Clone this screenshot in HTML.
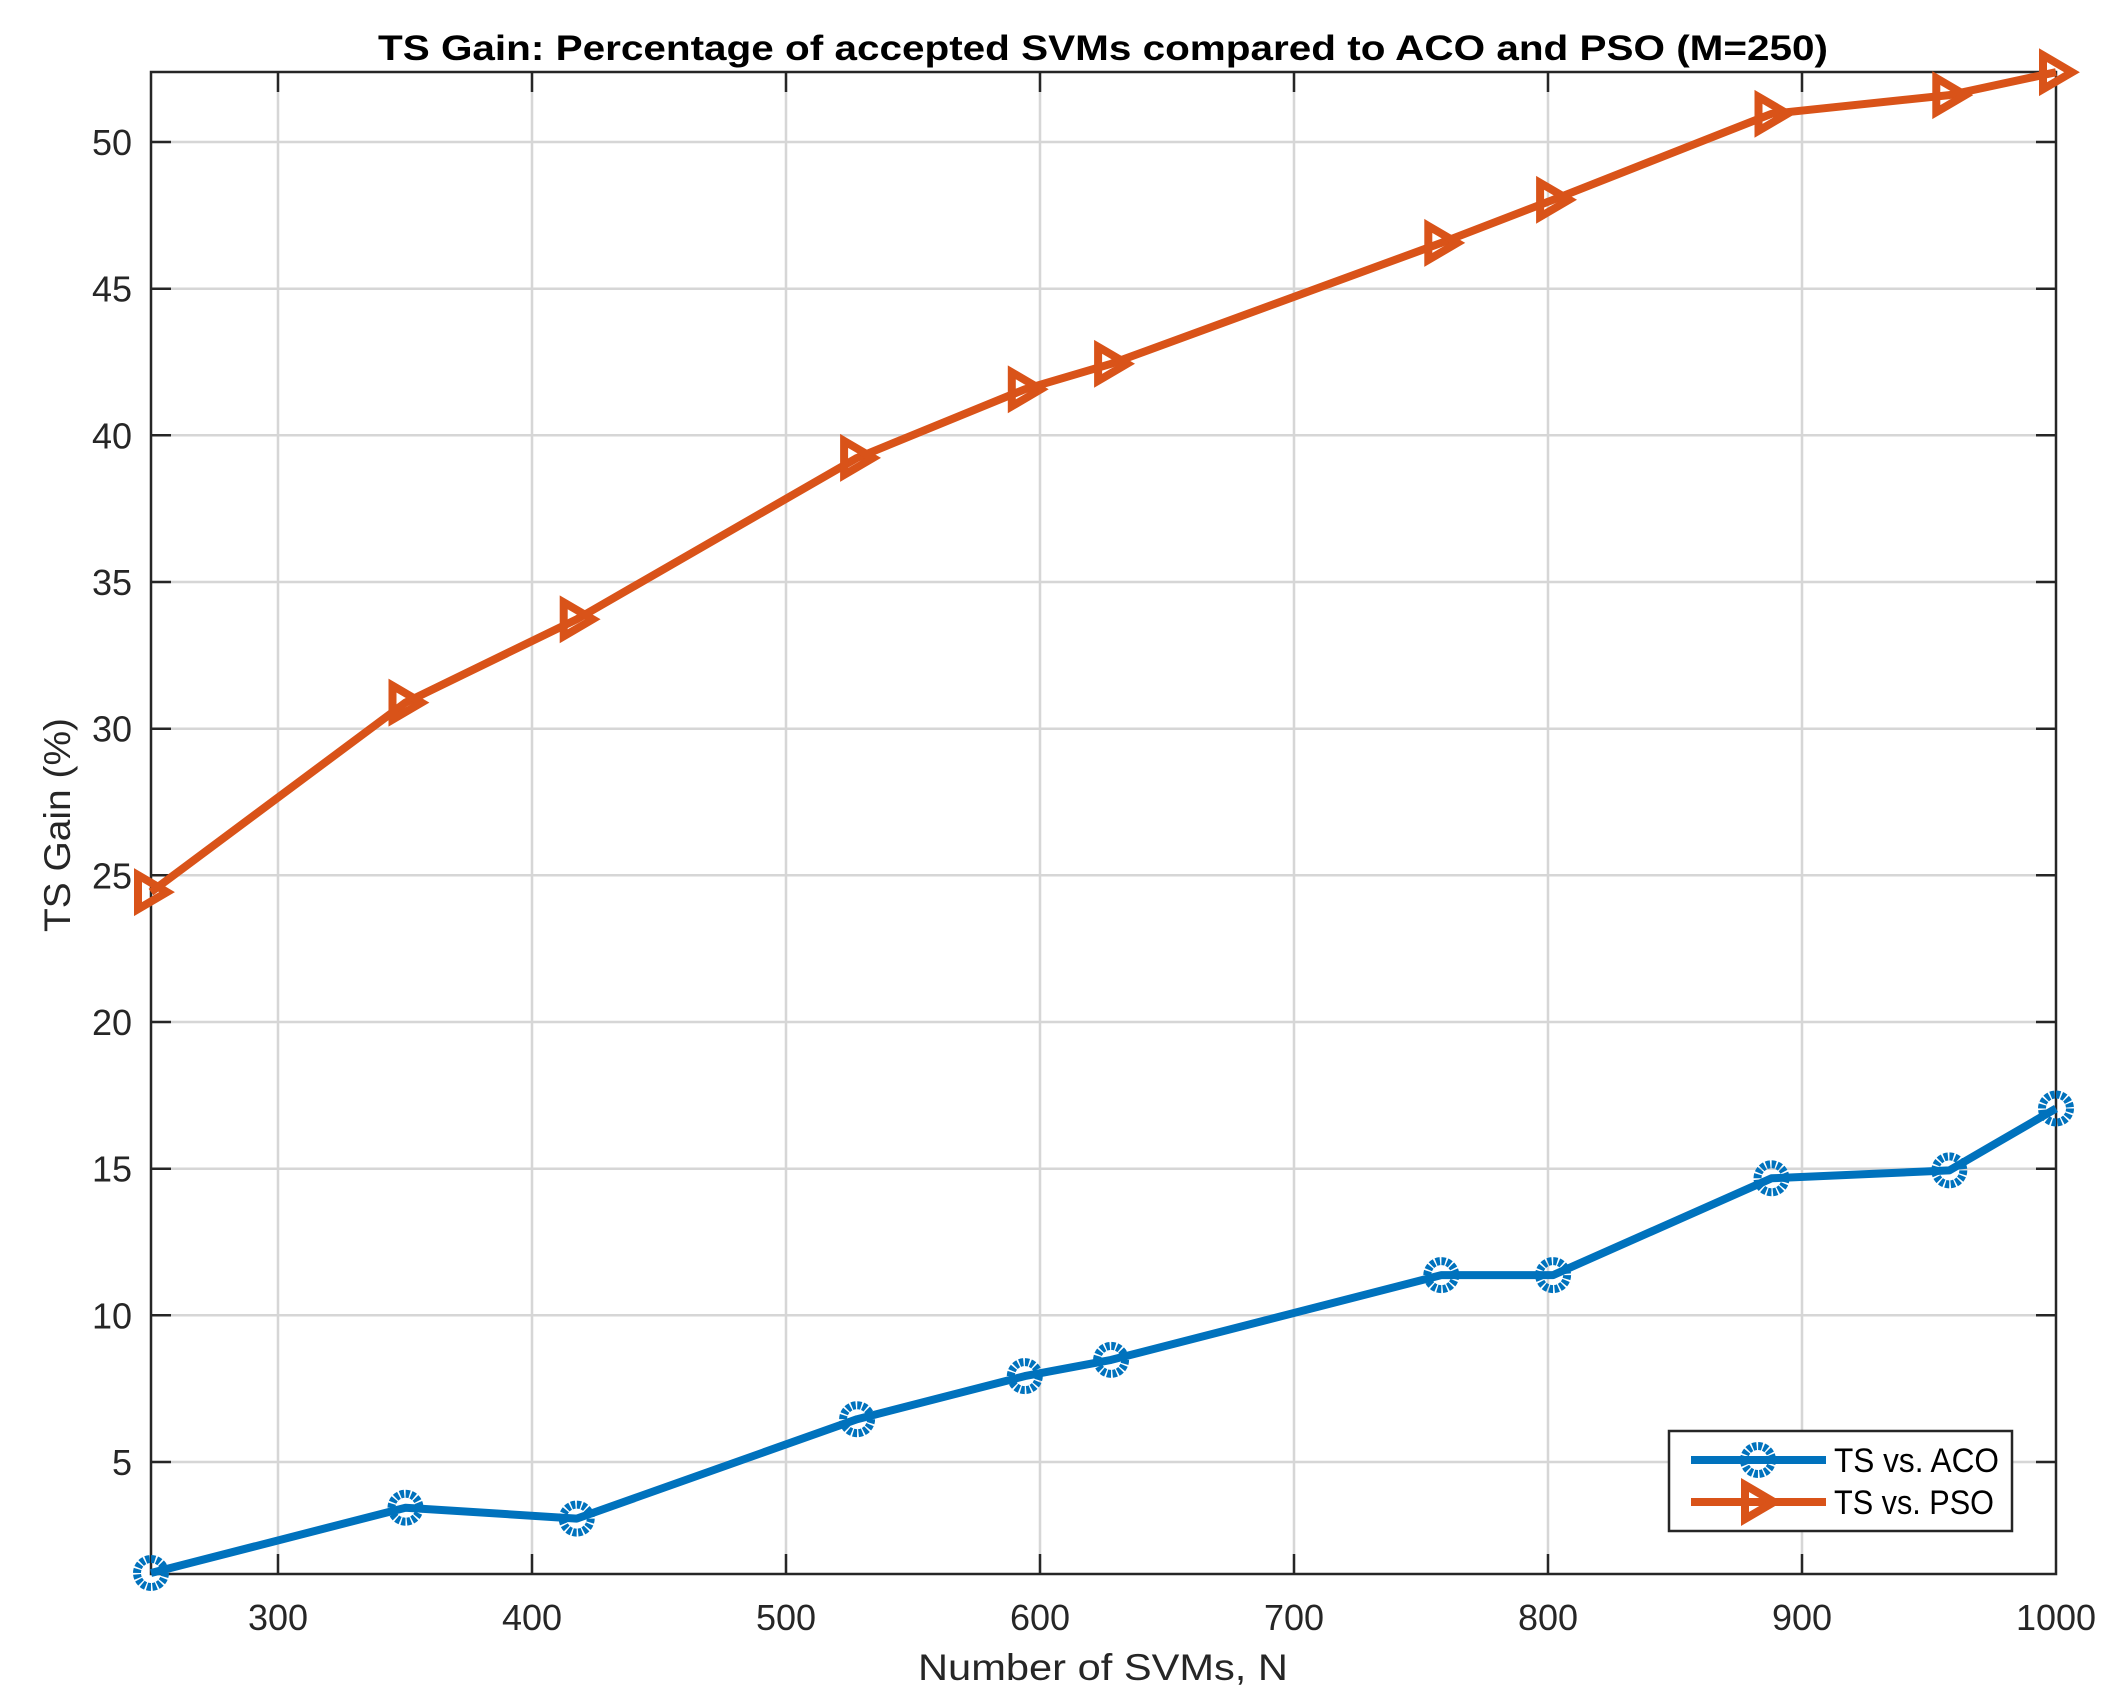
<!DOCTYPE html>
<html><head><meta charset="utf-8"><style>html,body{margin:0;padding:0;background:#fff}svg{display:block}</style></head>
<body>
<svg width="2108" height="1707" viewBox="0 0 2108 1707" xmlns="http://www.w3.org/2000/svg" font-family="Liberation Sans, sans-serif">
<defs>
<g id="circ"><circle r="14" fill="none" stroke="#0072BD" stroke-width="8" stroke-dasharray="4 1.5"/></g>
<g id="tri"><path d="M-13,-17 L16,0 L-13,17 Z" fill="none" stroke="#D95319" stroke-width="8" stroke-linejoin="miter"/></g>
</defs>
<rect width="2108" height="1707" fill="#fff"/>
<g stroke="#d6d6d6" stroke-width="2.5">
<line x1="278" y1="72" x2="278" y2="1574"/><line x1="532" y1="72" x2="532" y2="1574"/><line x1="786" y1="72" x2="786" y2="1574"/><line x1="1040" y1="72" x2="1040" y2="1574"/><line x1="1294" y1="72" x2="1294" y2="1574"/><line x1="1548" y1="72" x2="1548" y2="1574"/><line x1="1802" y1="72" x2="1802" y2="1574"/>
<line x1="151" y1="142" x2="2056" y2="142"/><line x1="151" y1="288.7" x2="2056" y2="288.7"/><line x1="151" y1="435.3" x2="2056" y2="435.3"/><line x1="151" y1="582" x2="2056" y2="582"/><line x1="151" y1="728.7" x2="2056" y2="728.7"/><line x1="151" y1="875.3" x2="2056" y2="875.3"/><line x1="151" y1="1022" x2="2056" y2="1022"/><line x1="151" y1="1168.7" x2="2056" y2="1168.7"/><line x1="151" y1="1315.3" x2="2056" y2="1315.3"/><line x1="151" y1="1462" x2="2056" y2="1462"/>
</g>
<g stroke="#262626" stroke-width="2.5">
<rect x="151" y="72" width="1905" height="1502" fill="none"/>
<path d="M278,1574v-20M532,1574v-20M786,1574v-20M1040,1574v-20M1294,1574v-20M1548,1574v-20M1802,1574v-20M278,72v20M532,72v20M786,72v20M1040,72v20M1294,72v20M1548,72v20M1802,72v20"/>
<path d="M151,142h20M151,288.7h20M151,435.3h20M151,582h20M151,728.7h20M151,875.3h20M151,1022h20M151,1168.7h20M151,1315.3h20M151,1462h20M2056,142h-20M2056,288.7h-20M2056,435.3h-20M2056,582h-20M2056,728.7h-20M2056,875.3h-20M2056,1022h-20M2056,1168.7h-20M2056,1315.3h-20M2056,1462h-20"/>
</g>
<g font-size="36" fill="#262626" text-anchor="end">
<text x="132" y="155">50</text><text x="132" y="301.7">45</text><text x="132" y="448.3">40</text><text x="132" y="595">35</text><text x="132" y="741.7">30</text><text x="132" y="888.3">25</text><text x="132" y="1035">20</text><text x="132" y="1181.7">15</text><text x="132" y="1328.3">10</text><text x="132" y="1475">5</text>
</g>
<g font-size="36" fill="#262626" text-anchor="middle">
<text x="278" y="1630">300</text><text x="532" y="1630">400</text><text x="786" y="1630">500</text><text x="1040" y="1630">600</text><text x="1294" y="1630">700</text><text x="1548" y="1630">800</text><text x="1802" y="1630">900</text><text x="2056" y="1630">1000</text>
</g>
<text x="1103" y="1680" font-size="37" fill="#262626" text-anchor="middle" textLength="370" lengthAdjust="spacingAndGlyphs">Number of SVMs, N</text>
<text transform="translate(70,825) rotate(-90)" font-size="37" fill="#262626" text-anchor="middle" textLength="214" lengthAdjust="spacingAndGlyphs">TS Gain (%)</text>
<text x="1103" y="60" font-size="35" font-weight="bold" fill="#000" text-anchor="middle" textLength="1450" lengthAdjust="spacingAndGlyphs">TS Gain: Percentage of accepted SVMs compared to ACO and PSO (M=250)</text>
<polyline fill="none" stroke="#0072BD" stroke-width="8" stroke-linejoin="round" points="151,1573 405.5,1507.7 576.7,1518.6 857.1,1419.2 1024.8,1376.1 1111.1,1359.9 1441.3,1275.1 1553.1,1275.1 1771.5,1178.3 1949.3,1170.4 2056,1108.5"/>
<polyline fill="none" stroke="#D95319" stroke-width="8" stroke-linejoin="round" points="151,892.1 405.5,702.6 576.7,619.3 857.1,457.9 1024.8,389.3 1111.1,363.8 1441.3,242.9 1553.1,199.8 1771.5,113.8 1949.3,95.1 2056,72.2"/>
<use href="#circ" x="151" y="1573"/><use href="#circ" x="405.5" y="1507.7"/><use href="#circ" x="576.7" y="1518.6"/><use href="#circ" x="857.1" y="1419.2"/><use href="#circ" x="1024.8" y="1376.1"/><use href="#circ" x="1111.1" y="1359.9"/><use href="#circ" x="1441.3" y="1275.1"/><use href="#circ" x="1553.1" y="1275.1"/><use href="#circ" x="1771.5" y="1178.3"/><use href="#circ" x="1949.3" y="1170.4"/><use href="#circ" x="2056" y="1108.5"/>
<use href="#tri" x="151" y="892.1"/><use href="#tri" x="405.5" y="702.6"/><use href="#tri" x="576.7" y="619.3"/><use href="#tri" x="857.1" y="457.9"/><use href="#tri" x="1024.8" y="389.3"/><use href="#tri" x="1111.1" y="363.8"/><use href="#tri" x="1441.3" y="242.9"/><use href="#tri" x="1553.1" y="199.8"/><use href="#tri" x="1771.5" y="113.8"/><use href="#tri" x="1949.3" y="95.1"/><use href="#tri" x="2056" y="72.2"/>
<rect x="1669" y="1431" width="343" height="100" fill="#fff" stroke="#262626" stroke-width="2.5"/>
<line x1="1691" y1="1460" x2="1826" y2="1460" stroke="#0072BD" stroke-width="8"/>
<use href="#circ" x="1758" y="1460"/>
<line x1="1691" y1="1502" x2="1826" y2="1502" stroke="#D95319" stroke-width="8"/>
<use href="#tri" x="1758" y="1502"/>
<text x="1834" y="1472" font-size="34" fill="#000" textLength="165" lengthAdjust="spacingAndGlyphs">TS vs. ACO</text>
<text x="1834" y="1514" font-size="34" fill="#000" textLength="160" lengthAdjust="spacingAndGlyphs">TS vs. PSO</text>
</svg>
</body></html>
